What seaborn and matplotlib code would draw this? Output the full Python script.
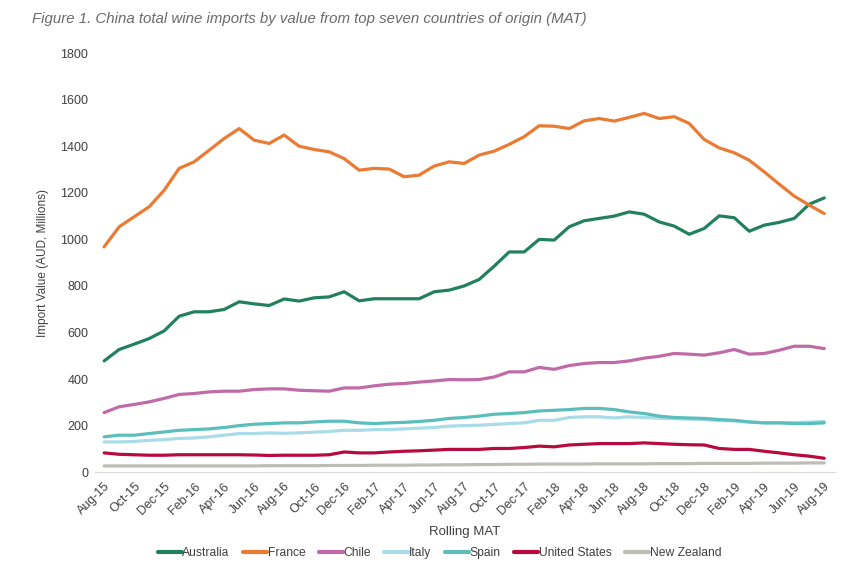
import pandas as pd
import numpy as np
import matplotlib.pyplot as plt
import seaborn as sns

sns.set_style('white')
plt.rcParams['font.family'] = ['Liberation Sans', 'DejaVu Sans']

# Monthly rolling MAT, Aug-15 to Aug-19
months = pd.date_range('2015-08-01', '2019-08-01', freq='MS')
month_labels = [d.strftime('%b-%y') for d in months]

australia = [478, 527, 550, 574, 607, 670, 689, 689, 699, 732, 723, 716, 744,
             735, 749, 753, 775, 736, 745, 745, 745, 745, 775, 782, 800,
             828, 885, 946, 946, 1000, 997, 1054, 1080, 1090, 1100, 1118, 1108,
             1075, 1057, 1022, 1047, 1101, 1093, 1035, 1061, 1073, 1090, 1151, 1178]
france = [968, 1054, 1097, 1140, 1211, 1305, 1333, 1383, 1433, 1476, 1426, 1412, 1448,
          1400, 1386, 1376, 1347, 1297, 1305, 1302, 1269, 1276, 1315, 1333, 1326,
          1362, 1379, 1408, 1441, 1488, 1486, 1476, 1509, 1519, 1508, 1524, 1541,
          1519, 1527, 1498, 1429, 1393, 1372, 1340, 1290, 1237, 1186, 1147, 1111]
chile = [256, 281, 291, 302, 317, 334, 338, 345, 348, 348, 355, 358, 358,
         352, 350, 348, 362, 362, 371, 378, 381, 387, 392, 398, 397,
         398, 409, 431, 431, 450, 442, 458, 467, 471, 471, 478, 490,
         498, 510, 507, 503, 513, 527, 507, 510, 524, 541, 541, 531]
italy = [130, 130, 132, 137, 140, 145, 147, 152, 159, 166, 166, 169, 167,
         169, 172, 175, 180, 180, 183, 183, 186, 189, 192, 198, 200,
         202, 205, 209, 212, 223, 223, 235, 238, 238, 233, 238, 235,
         232, 230, 228, 226, 222, 220, 215, 212, 212, 213, 215, 218]
spain = [152, 159, 159, 166, 173, 180, 183, 186, 192, 200, 206, 209, 212,
         212, 216, 219, 219, 212, 209, 212, 214, 218, 223, 231, 235,
         241, 249, 252, 256, 263, 266, 269, 274, 274, 269, 259, 252,
         241, 235, 233, 231, 226, 223, 216, 212, 212, 209, 209, 212]
united_states = [83, 77, 75, 73, 73, 75, 75, 75, 75, 75, 74, 72, 73,
                 73, 73, 75, 87, 83, 83, 87, 90, 92, 95, 98, 98,
                 98, 102, 102, 106, 112, 109, 117, 120, 123, 123, 123, 126,
                 123, 120, 118, 117, 102, 98, 98, 90, 83, 75, 69, 60]
new_zealand = [27, 27, 27, 27, 27, 27, 27, 27, 27, 27, 27, 28, 28,
               28, 28, 29, 29, 29, 30, 30, 30, 31, 31, 32, 32,
               33, 33, 34, 34, 35, 35, 35, 35, 36, 36, 36, 36,
               37, 37, 37, 38, 38, 38, 38, 39, 39, 39, 40, 40]

countries = ['Australia', 'France', 'Chile', 'Italy', 'Spain', 'United States', 'New Zealand']
series = [australia, france, chile, italy, spain, united_states, new_zealand]
colors = ['#23805d', '#eb7a33', '#c16aa8', '#a9dbe9', '#5cbdbd', '#b70a3f', '#bdbdb6']

df = pd.concat([pd.DataFrame({'idx': np.arange(len(months)), 'value': vals, 'country': name})
                for name, vals in zip(countries, series)], ignore_index=True)

fig = plt.figure(figsize=(8.65, 5.71), dpi=100)
ax = fig.add_axes([0.11, 0.173, 0.855, 0.734])

sns.lineplot(data=df, x='idx', y='value', hue='country', hue_order=countries,
             palette=colors, linewidth=2.3, ax=ax, legend=False)

ax.set_xlim(-0.6, 48.7)
ax.set_ylim(0, 1800)
ax.set_yticks(range(0, 1801, 200))
ax.set_xticks(range(0, len(months), 2))
ax.set_xticklabels(month_labels[::2], rotation=45, ha='right', rotation_mode='anchor')
ax.tick_params(axis='x', labelsize=9, colors='#404040', length=3, color='#d9d9d9', pad=3)
ax.tick_params(axis='y', labelsize=9, colors='#404040', length=0, pad=5)
for s in ['top', 'right', 'left']:
    ax.spines[s].set_visible(False)
ax.spines['bottom'].set_color('#d9d9d9')
ax.set_xlabel('Rolling MAT', fontsize=9.5, color='#404040', labelpad=6)
ax.set_ylabel('Import Value (AUD, Millions)', fontsize=8.5, color='#404040', labelpad=8)

handles = [plt.Line2D([], [], color=c, linewidth=3) for c in colors]
fig.legend(handles, countries, loc='center', bbox_to_anchor=(0.508, 0.031), ncol=7,
           frameon=False, fontsize=8.7, handlelength=2.0, handletextpad=0.05, columnspacing=1.1,
           labelcolor='#404040')

fig.text(0.037, 0.967, 'Figure 1. China total wine imports by value from top seven countries of origin (MAT)',
         fontsize=10.8, style='italic', color='#6a6a6a', ha='left', va='center')

fig.savefig('out.png', dpi=100)
